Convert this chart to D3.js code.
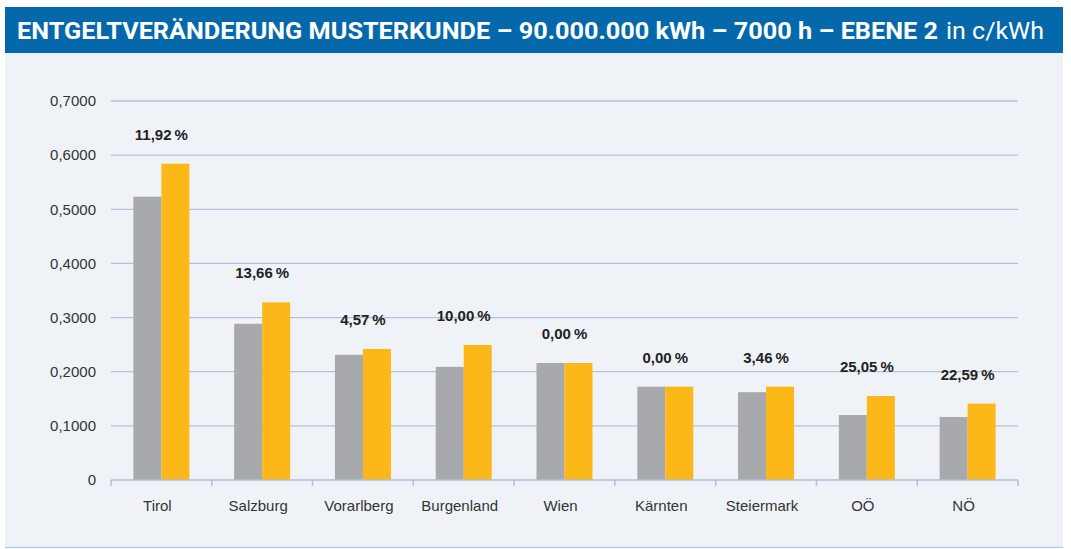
<!DOCTYPE html>
<html>
<head>
<meta charset="utf-8">
<script src="https://cdn.jsdelivr.net/npm/d3@7"></script>
<style>
  body { margin: 0; background: #fff; }
  svg { display: block; }
</style>
</head>
<body>
<div class="chart"></div>
<script>
// data
const categories = ["Tirol", "Salzburg", "Vorarlberg", "Burgenland", "Wien", "Kärnten", "Steiermark", "OÖ", "NÖ"];
const valuesOld = [0.5233, 0.2885, 0.2312, 0.2090, 0.2161, 0.1724, 0.1622, 0.1200, 0.1164];
const valuesNew = [0.5842, 0.3282, 0.2420, 0.2494, 0.2161, 0.1724, 0.1724, 0.1552, 0.1410];
const changeLabels = ["11,92\u202F%", "13,66\u202F%", "4,57\u202F%", "10,00\u202F%", "0,00\u202F%", "0,00\u202F%", "3,46\u202F%", "25,05\u202F%", "22,59\u202F%"];
const yTicks = [0, 0.1, 0.2, 0.3, 0.4, 0.5, 0.6, 0.7];

const width = 1071;
const height = 549;
const margin = { top: 101, right: 53, bottom: 69, left: 111 };

const deFormat = d3.formatLocale({ decimal: ",", thousands: ".", grouping: [3], currency: ["", " €"] });
const fmt = deFormat.format(".4f");

const svg = d3.select(".chart")
    .append("svg")
    .attr("width", width)
    .attr("height", height)
    .attr("viewBox", [0, 0, width, height]);

// panel background + title bar
svg.append("rect")
    .attr("x", 5).attr("y", 7)
    .attr("width", 1058).attr("height", 541)
    .attr("fill", "#eff3f8");
svg.append("line")
    .attr("x1", 5).attr("x2", 1063)
    .attr("y1", 547.5).attr("y2", 547.5)
    .attr("stroke", "#b5d0ea").attr("stroke-width", 1.5);
svg.append("rect")
    .attr("x", 5).attr("y", 7)
    .attr("width", 1058).attr("height", 46)
    .attr("fill", "#0468ab");

const title = svg.append("text")
    .attr("x", 17).attr("y", 39)
    .attr("fill", "#fff")
    .style("font-family", "Roboto, 'Liberation Sans', sans-serif")
    .style("font-size", "23px");
title.append("tspan")
    .attr("font-weight", "bold")
    .attr("textLength", 921)
    .attr("lengthAdjust", "spacingAndGlyphs")
    .text("ENTGELTVERÄNDERUNG MUSTERKUNDE – 90.000.000 kWh – 7000 h – EBENE 2");
title.append("tspan")
    .attr("x", 946)
    .attr("textLength", 98)
    .attr("lengthAdjust", "spacingAndGlyphs")
    .text("in c/kWh");

// scales
const x = d3.scaleBand()
    .domain(categories)
    .range([margin.left, width - margin.right])
    .paddingInner(0)
    .paddingOuter(0);

const x1 = d3.scaleBand()
    .domain(["old", "new"])
    .range([0, x.bandwidth()])
    .paddingOuter(0.8)
    .paddingInner(0);

const y = d3.scaleLinear()
    .domain([0, 0.7])
    .range([height - margin.bottom, margin.top]);

// grid lines
svg.append("g")
    .selectAll("line")
    .data(yTicks.slice(1))
    .join("line")
    .attr("x1", margin.left).attr("x2", width - margin.right)
    .attr("y1", d => y(d)).attr("y2", d => y(d))
    .attr("stroke", "#b3c2db")
    .attr("stroke-width", 1.3);

// y labels
svg.append("g")
    .selectAll("text")
    .data(yTicks)
    .join("text")
    .attr("x", 96)
    .attr("y", d => y(d))
    .attr("dy", "0.35em")
    .attr("text-anchor", "end")
    .attr("fill", "#333")
    .style("font-family", "'Liberation Sans', Arial, sans-serif")
    .style("font-size", "15px")
    .text(d => d === 0 ? "0" : fmt(d));

// bars
const groups = svg.append("g")
    .selectAll("g")
    .data(categories.map((c, i) => ({ c, old: valuesOld[i], neu: valuesNew[i], label: changeLabels[i] })))
    .join("g")
    .attr("transform", d => `translate(${x(d.c)},0)`);

groups.append("rect")
    .attr("x", x1("old"))
    .attr("width", x1.bandwidth())
    .attr("y", d => y(d.old))
    .attr("height", d => y(0) - y(d.old))
    .attr("fill", "#a8a9ad");

groups.append("rect")
    .attr("x", x1("new"))
    .attr("width", x1.bandwidth())
    .attr("y", d => y(d.neu))
    .attr("height", d => y(0) - y(d.neu))
    .attr("fill", "#fbb818");

groups.append("text")
    .attr("x", x.bandwidth() / 2)
    .attr("y", d => y(Math.max(d.old, d.neu)) - 24)
    .attr("text-anchor", "middle")
    .attr("fill", "#222")
    .style("font-family", "'Liberation Sans', Arial, sans-serif")
    .style("font-size", "15px")
    .style("font-weight", "bold")
    .text(d => d.label);

// x axis
const xAxis = svg.append("g")
    .attr("transform", `translate(0,${y(0)})`);
xAxis.append("line")
    .attr("x1", margin.left).attr("x2", width - margin.right)
    .attr("stroke", "#aebfda").attr("stroke-width", 1.5);
xAxis.selectAll("line.tick")
    .data(d3.range(categories.length + 1))
    .join("line")
    .attr("class", "tick")
    .attr("x1", i => margin.left + i * x.step())
    .attr("x2", i => margin.left + i * x.step())
    .attr("y1", 0).attr("y2", 6)
    .attr("stroke", "#aebfda").attr("stroke-width", 1.5);
xAxis.selectAll("text")
    .data(categories)
    .join("text")
    .attr("x", d => x(d) + x.bandwidth() / 2 - 4)
    .attr("y", 31)
    .attr("text-anchor", "middle")
    .attr("fill", "#333")
    .style("font-family", "'Liberation Sans', Arial, sans-serif")
    .style("font-size", "15px")
    .text(d => d);
</script>
</body>
</html>
